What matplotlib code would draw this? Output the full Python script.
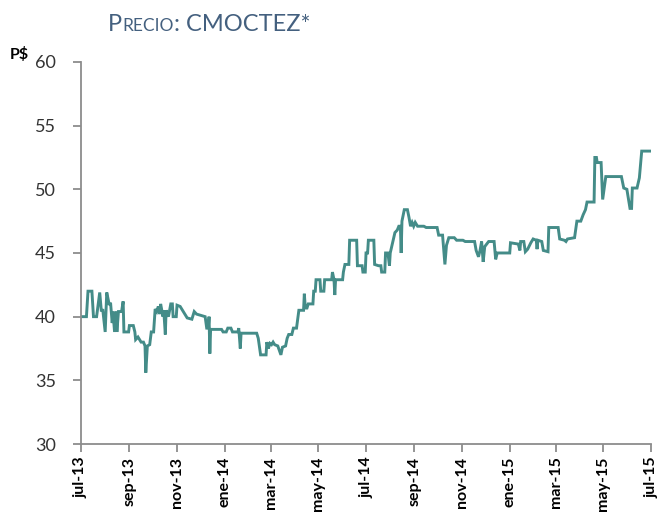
import numpy as np
import matplotlib
matplotlib.use("Agg")
import matplotlib.pyplot as plt
import pandas as pd

# precio CMOCTEZ (lectura aproximada del grafico)
fechas = [
    "2013-07-01", "2013-07-08", "2013-07-10", "2013-07-15", "2013-07-17", "2013-07-21",
    "2013-07-25", "2013-07-27", "2013-07-29", "2013-08-01", "2013-08-03", "2013-08-06",
    "2013-08-08", "2013-08-10", "2013-08-11", "2013-08-13", "2013-08-15", "2013-08-16",
    "2013-08-18", "2013-08-22", "2013-08-24", "2013-08-25", "2013-08-31", "2013-09-01",
    "2013-09-06", "2013-09-08", "2013-09-09", "2013-09-12", "2013-09-14", "2013-09-16",
    "2013-09-19", "2013-09-21", "2013-09-22", "2013-09-24", "2013-09-27", "2013-09-29",
    "2013-10-02", "2013-10-04", "2013-10-06", "2013-10-08", "2013-10-10", "2013-10-11",
    "2013-10-14", "2013-10-15", "2013-10-17", "2013-10-18", "2013-10-21", "2013-10-24",
    "2013-10-26", "2013-10-27", "2013-10-31", "2013-11-01", "2013-11-05", "2013-11-08",
    "2013-11-11", "2013-11-14", "2013-11-20", "2013-11-23", "2013-11-26", "2013-12-07",
    "2013-12-09", "2013-12-11", "2013-12-12", "2013-12-13", "2013-12-14", "2013-12-28",
    "2013-12-30", "2014-01-03", "2014-01-05", "2014-01-09", "2014-01-11", "2014-01-18",
    "2014-01-19", "2014-01-21", "2014-01-22", "2014-02-11", "2014-02-13", "2014-02-16",
    "2014-02-23", "2014-02-24", "2014-02-26", "2014-02-28", "2014-03-02", "2014-03-04",
    "2014-03-06", "2014-03-10", "2014-03-14", "2014-03-16", "2014-03-20", "2014-03-22",
    "2014-03-24", "2014-03-28", "2014-03-30", "2014-04-03", "2014-04-05", "2014-04-06",
    "2014-04-12", "2014-04-13", "2014-04-14", "2014-04-16", "2014-04-18", "2014-04-24",
    "2014-04-25", "2014-04-27", "2014-04-28", "2014-05-03", "2014-05-04", "2014-05-08",
    "2014-05-09", "2014-05-18", "2014-05-19", "2014-05-21", "2014-05-22", "2014-05-23",
    "2014-06-01", "2014-06-02", "2014-06-04", "2014-06-09", "2014-06-10", "2014-06-19",
    "2014-06-20", "2014-06-26", "2014-06-27", "2014-06-30", "2014-07-01", "2014-07-03",
    "2014-07-04", "2014-07-11", "2014-07-12", "2014-07-17", "2014-07-20", "2014-07-21",
    "2014-07-25", "2014-07-26", "2014-07-29", "2014-07-31", "2014-08-01", "2014-08-04",
    "2014-08-07", "2014-08-10", "2014-08-12", "2014-08-14", "2014-08-15", "2014-08-16",
    "2014-08-19", "2014-08-23", "2014-08-25", "2014-08-27", "2014-08-29", "2014-08-31",
    "2014-09-02", "2014-09-05", "2014-09-13", "2014-09-16", "2014-09-30", "2014-10-02",
    "2014-10-07", "2014-10-10", "2014-10-12", "2014-10-15", "2014-10-22", "2014-10-25",
    "2014-11-02", "2014-11-05", "2014-11-17", "2014-11-19", "2014-11-22", "2014-11-24",
    "2014-11-26", "2014-11-28", "2014-11-30", "2014-12-05", "2014-12-12", "2014-12-14",
    "2014-12-16", "2015-01-01", "2015-01-02", "2015-01-12", "2015-01-14", "2015-01-15",
    "2015-01-19", "2015-01-21", "2015-01-24", "2015-01-28", "2015-01-31", "2015-02-04",
    "2015-02-05", "2015-02-06", "2015-02-11", "2015-02-13", "2015-02-19", "2015-02-20",
    "2015-03-04", "2015-03-06", "2015-03-12", "2015-03-14", "2015-03-16", "2015-03-25",
    "2015-03-28", "2015-04-02", "2015-04-05", "2015-04-08", "2015-04-10", "2015-04-19",
    "2015-04-20", "2015-04-22", "2015-04-23", "2015-04-28", "2015-04-30", "2015-05-02",
    "2015-05-04", "2015-05-24", "2015-05-27", "2015-05-31", "2015-06-04", "2015-06-06",
    "2015-06-07", "2015-06-13", "2015-06-16", "2015-06-19", "2015-06-30",
]
precio = [
    40.0, 40.0, 42.0, 42.0, 40.0, 40.0,
    41.9, 40.5, 40.5, 38.8, 41.9, 41.0,
    41.0, 39.5, 40.4, 38.8, 40.4, 38.8,
    40.4, 40.4, 41.2, 38.8, 38.8, 39.3,
    39.3, 38.8, 38.2, 38.4, 38.2, 38.0,
    38.0, 37.7, 35.6, 37.7, 37.8, 38.8,
    38.8, 40.6, 40.4, 40.8, 40.2, 41.0,
    40.0, 40.5, 38.6, 40.5, 40.0, 41.0,
    41.0, 40.0, 40.0, 40.9, 40.8, 40.5,
    40.2, 39.9, 39.8, 40.4, 40.2, 40.0,
    39.1, 39.1, 40.0, 37.1, 39.0, 39.0,
    38.8, 38.8, 39.1, 39.1, 38.8, 38.8,
    39.1, 37.5, 38.7, 38.7, 38.3, 37.0,
    37.0, 38.0, 37.5, 37.9, 37.8, 38.0,
    37.8, 37.7, 37.0, 37.6, 37.7, 38.3,
    38.6, 38.6, 39.1, 39.1, 40.0, 40.5,
    40.5, 41.8, 40.9, 40.6, 41.0, 41.0,
    42.0, 42.0, 42.9, 42.9, 42.0, 42.0,
    42.9, 42.9, 43.5, 42.9, 41.7, 42.9,
    42.9, 43.5, 44.1, 44.1, 46.0, 46.0,
    44.0, 44.0, 43.5, 43.5, 45.0, 45.0,
    46.0, 46.0, 44.1, 44.0, 44.0, 43.5,
    43.5, 45.0, 45.0, 44.0, 45.0, 45.8,
    46.6, 46.8, 47.1, 47.1, 45.0, 47.5,
    48.4, 48.4, 47.8, 47.1, 47.4, 47.1,
    47.4, 47.1, 47.1, 47.0, 47.0, 46.4,
    46.4, 44.1, 45.6, 46.2, 46.2, 46.0,
    46.0, 45.9, 45.9, 45.2, 44.7, 45.2,
    45.9, 44.3, 45.5, 45.9, 45.9, 44.5,
    45.0, 45.0, 45.8, 45.7, 45.2, 45.9,
    45.9, 45.1, 45.3, 45.8, 46.1, 46.0,
    45.3, 46.0, 45.9, 45.2, 45.1, 47.0,
    47.0, 46.1, 46.0, 45.9, 46.1, 46.2,
    47.5, 47.5, 48.0, 48.4, 49.0, 49.0,
    52.5, 52.5, 52.1, 52.1, 49.2, 50.1,
    51.0, 51.0, 50.1, 50.0, 48.5, 48.5,
    50.1, 50.1, 50.9, 53.0, 53.0,
]

etiquetas_x = ["jul-13", "sep-13", "nov-13", "ene-14", "mar-14", "may-14", "jul-14",
               "sep-14", "nov-14", "ene-15", "mar-15", "may-15", "jul-15"]
ticks_y = [30, 35, 40, 45, 50, 55, 60]

df = pd.DataFrame({"fecha": pd.to_datetime(fechas), "precio": precio})

plt.rcParams['font.family'] = ['Lato', 'DejaVu Sans']

fig = plt.figure(figsize=(6.61, 5.12), dpi=100)
ax = fig.add_axes([0.1225, 0.1328, 0.8625, 0.7462])

ax.plot(df["fecha"], df["precio"], color='#448c88', lw=2.1, solid_joinstyle='miter')

ax.set_xlim(pd.Timestamp("2013-07-01"), pd.Timestamp("2015-07-01"))
ax.set_ylim(30, 60)
ax.set_yticks(ticks_y)
ax.set_yticklabels([str(t) for t in ticks_y], fontsize=13, color='#333333')

pos_x = pd.date_range("2013-07-01", "2015-07-01", freq="2MS")
ax.set_xticks(pos_x)
ax.set_xticklabels(etiquetas_x, rotation=90, fontsize=11.5, fontweight='bold', color='black')

for s in ['top', 'right']:
    ax.spines[s].set_visible(False)
for s in ['left', 'bottom']:
    ax.spines[s].set_color('#8c8c8c')
    ax.spines[s].set_linewidth(1.3)
ax.tick_params(axis='both', direction='out', length=6, width=1.3, color='#8c8c8c')
ax.tick_params(axis='y', pad=12)
ax.tick_params(axis='x', pad=3)

fig.text(0.015, 0.885, "P$", fontsize=11.5, fontweight='bold', color='black')

# titulo en versalitas
fig.canvas.draw()
rend = fig.canvas.get_renderer()
color_t = '#44607f'
x0 = 108 / 661
y0 = 1 - 31 / 512
for txt, fs in [("P", 17), ("RECIO", 12.5), (": CMOCTEZ*", 17)]:
    t = fig.text(x0, y0, txt, fontsize=fs, color=color_t, va='baseline', ha='left')
    bb = t.get_window_extent(renderer=rend)
    x0 += bb.width / fig.bbox.width

fig.savefig("out.png", dpi=100)
